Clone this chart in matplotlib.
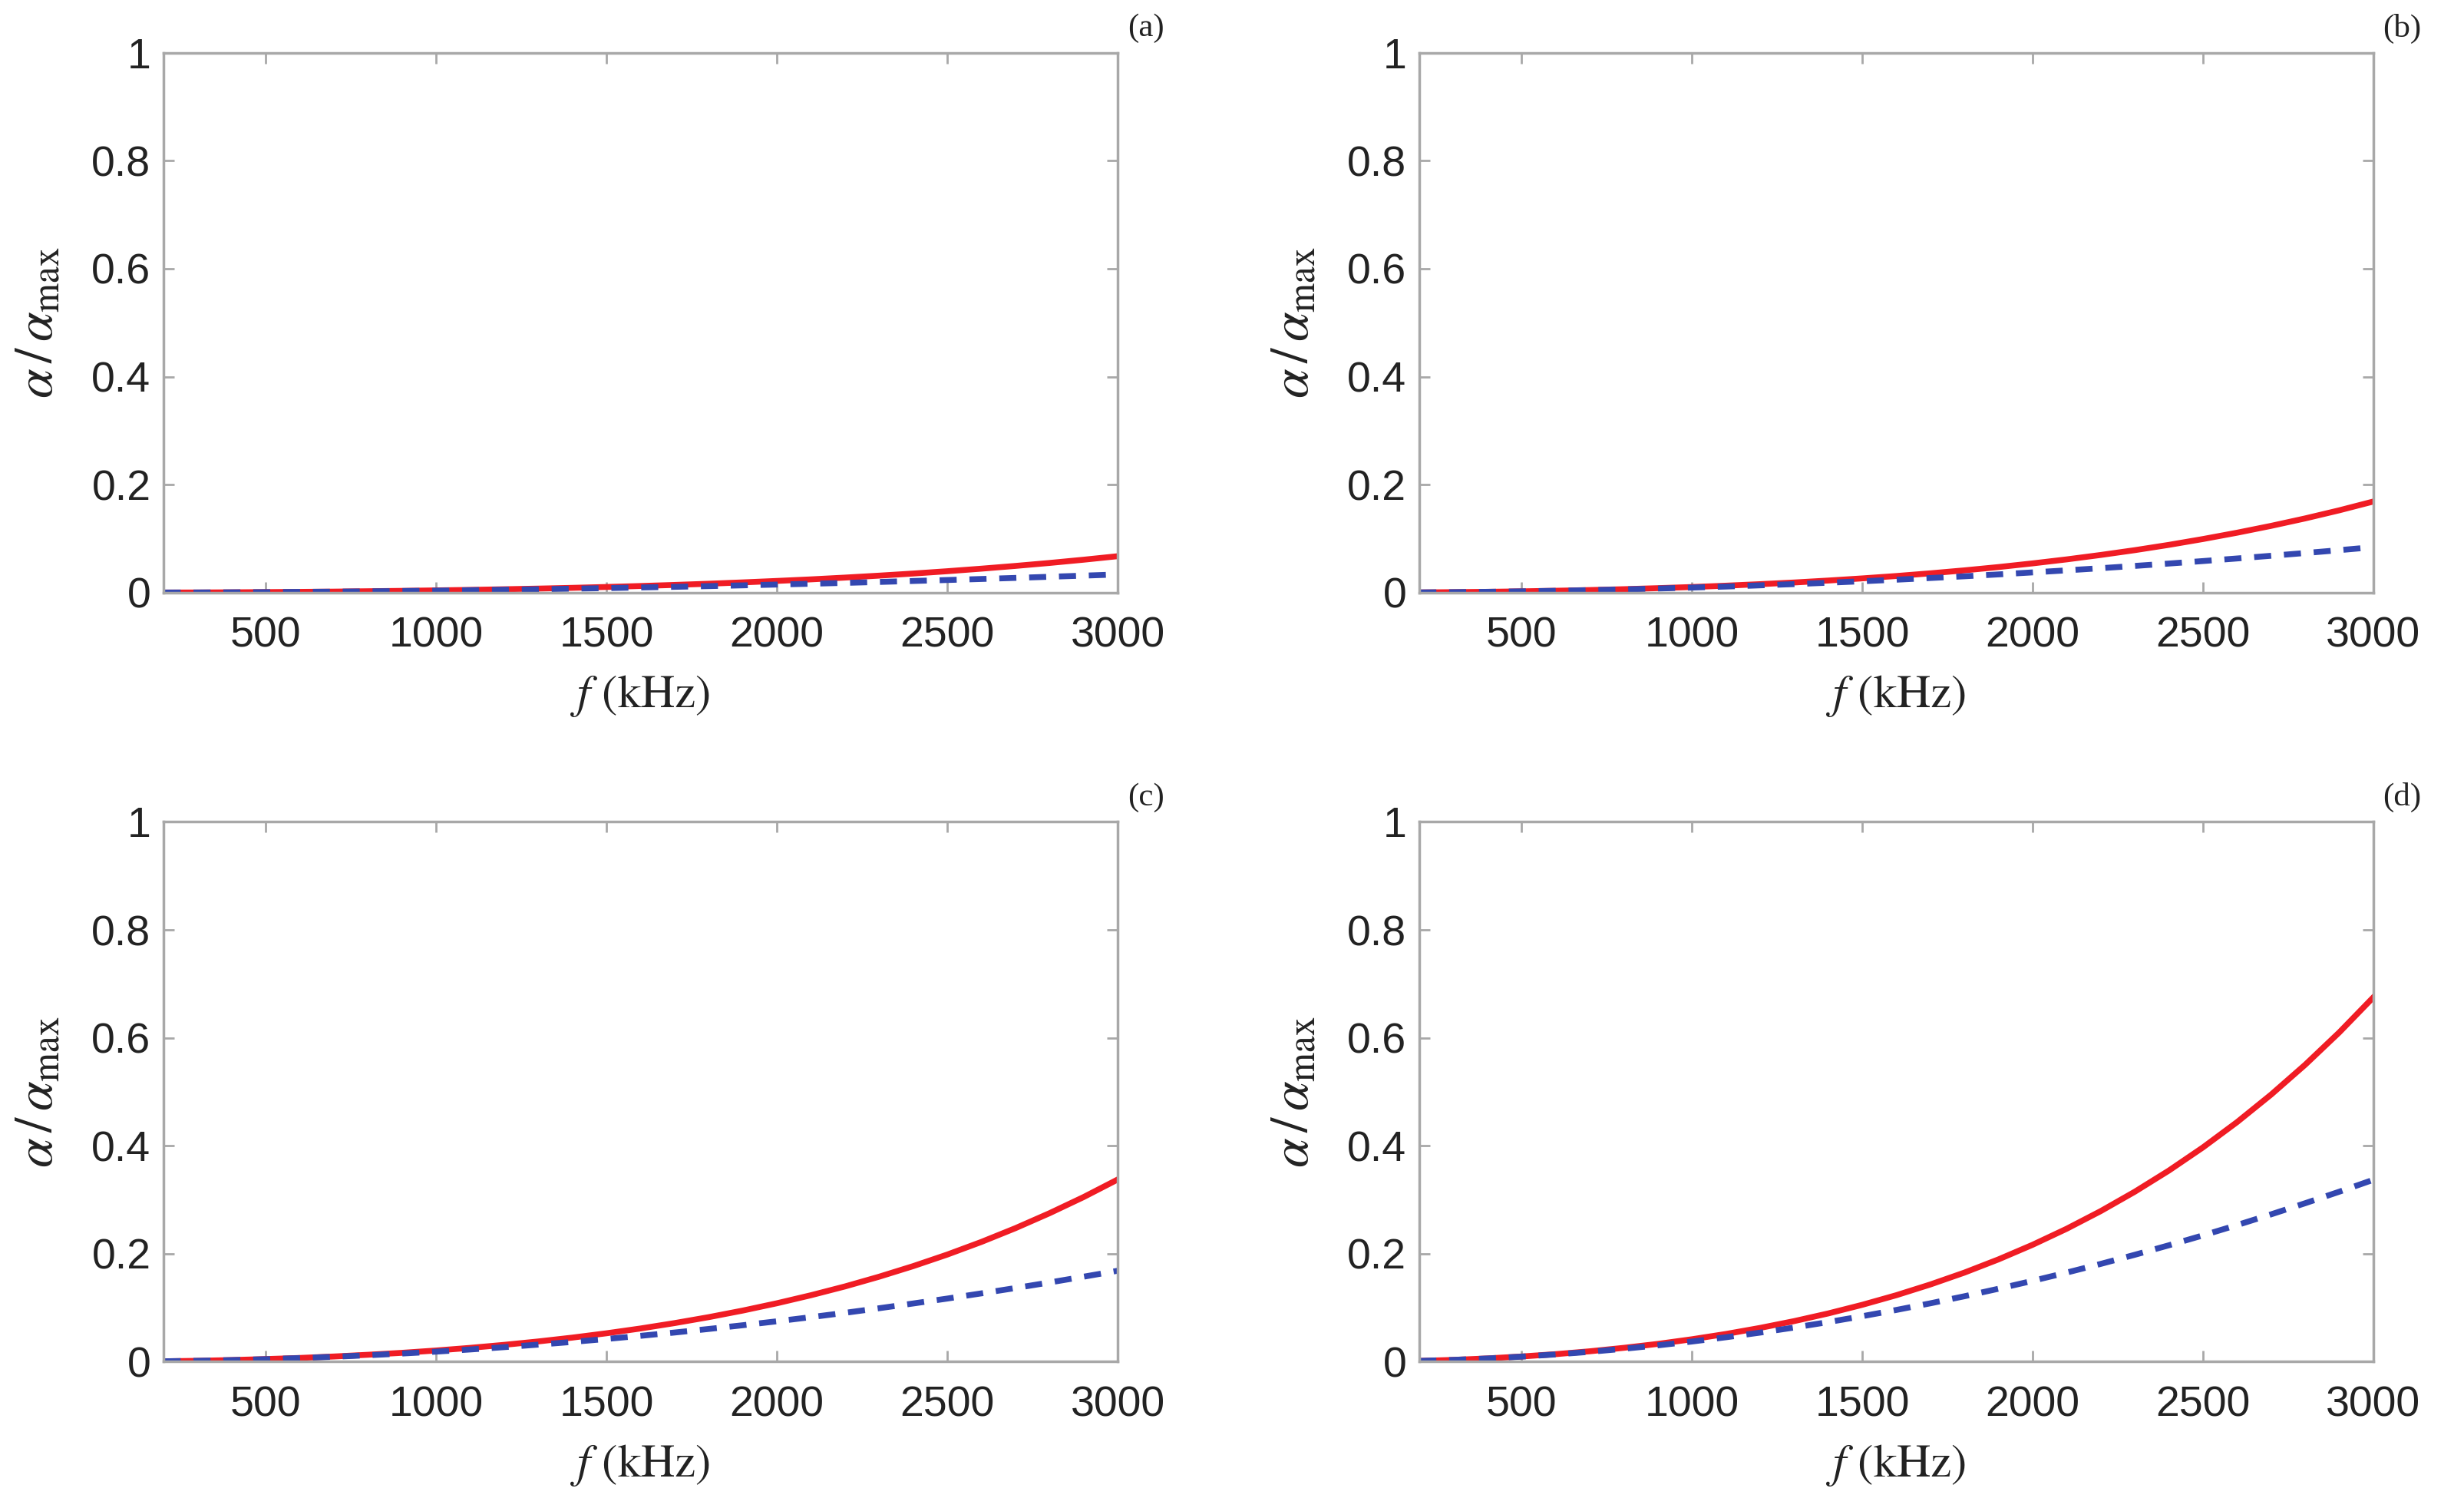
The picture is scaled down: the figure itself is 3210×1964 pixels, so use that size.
import matplotlib
matplotlib.use('Agg')
import matplotlib.pyplot as plt

# frequency grid (kHz)
freq = [200, 300, 400, 500, 600, 700, 800, 900, 1000, 1100, 1200, 1300, 1400, 1500, 1600,
        1700, 1800, 1900, 2000, 2100, 2200, 2300, 2400, 2500, 2600, 2700, 2800, 2900, 3000]

# panel (a)
red_a = [0.0002, 0.0003, 0.0006, 0.0010, 0.0014, 0.0019, 0.0026, 0.0033, 0.0042, 0.0051,
         0.0063, 0.0075, 0.0089, 0.0105, 0.0123, 0.0143, 0.0165, 0.0190, 0.0217, 0.0246,
         0.0279, 0.0315, 0.0354, 0.0397, 0.0444, 0.0495, 0.0550, 0.0610, 0.0675]
blue_a = [0.0002, 0.0003, 0.0006, 0.0009, 0.0014, 0.0018, 0.0024, 0.0030, 0.0037, 0.0045,
          0.0054, 0.0063, 0.0073, 0.0084, 0.0096, 0.0108, 0.0121, 0.0135, 0.0150, 0.0165,
          0.0181, 0.0198, 0.0216, 0.0234, 0.0253, 0.0273, 0.0294, 0.0315, 0.0337]
# panel (b)
red_b = [0.0004, 0.0009, 0.0015, 0.0024, 0.0035, 0.0048, 0.0064, 0.0083, 0.0104, 0.0129,
         0.0157, 0.0188, 0.0224, 0.0264, 0.0308, 0.0358, 0.0413, 0.0474, 0.0542, 0.0616,
         0.0698, 0.0787, 0.0885, 0.0993, 0.1110, 0.1237, 0.1375, 0.1525, 0.1688]
blue_b = [0.0004, 0.0009, 0.0015, 0.0024, 0.0034, 0.0046, 0.0060, 0.0076, 0.0094, 0.0113,
          0.0135, 0.0158, 0.0184, 0.0211, 0.0240, 0.0271, 0.0303, 0.0338, 0.0375, 0.0413,
          0.0453, 0.0495, 0.0539, 0.0585, 0.0633, 0.0683, 0.0734, 0.0787, 0.0843]
# panel (c)
red_c = [0.0008, 0.0017, 0.0031, 0.0049, 0.0070, 0.0097, 0.0129, 0.0165, 0.0208, 0.0257,
         0.0313, 0.0376, 0.0447, 0.0527, 0.0616, 0.0716, 0.0826, 0.0948, 0.1083, 0.1232,
         0.1395, 0.1575, 0.1771, 0.1985, 0.2219, 0.2474, 0.2751, 0.3050, 0.3375]
blue_c = [0.0008, 0.0017, 0.0030, 0.0047, 0.0068, 0.0092, 0.0120, 0.0152, 0.0187, 0.0227,
          0.0270, 0.0317, 0.0367, 0.0422, 0.0480, 0.0541, 0.0607, 0.0676, 0.0749, 0.0826,
          0.0906, 0.0991, 0.1079, 0.1170, 0.1266, 0.1365, 0.1468, 0.1575, 0.1685]
# panel (d)
red_d = [0.0015, 0.0034, 0.0061, 0.0097, 0.0140, 0.0193, 0.0257, 0.0330, 0.0416, 0.0514,
         0.0626, 0.0752, 0.0894, 0.1054, 0.1232, 0.1431, 0.1651, 0.1896, 0.2166, 0.2463,
         0.2790, 0.3149, 0.3541, 0.3970, 0.4438, 0.4948, 0.5501, 0.6100, 0.6750]
blue_d = [0.0015, 0.0034, 0.0060, 0.0094, 0.0135, 0.0183, 0.0240, 0.0303, 0.0374, 0.0453,
          0.0539, 0.0633, 0.0734, 0.0843, 0.0959, 0.1082, 0.1213, 0.1352, 0.1498, 0.1651,
          0.1812, 0.1981, 0.2157, 0.2340, 0.2531, 0.2730, 0.2936, 0.3149, 0.3370]

panel_tags = ['(a)', '(b)', '(c)', '(d)']
xticks = [500, 1000, 1500, 2000, 2500, 3000]
yticks = [0, 0.2, 0.4, 0.6, 0.8, 1]
ytick_labels = ['0', '0.2', '0.4', '0.6', '0.8', '1']

plt.rcParams['font.family'] = ['Liberation Sans', 'DejaVu Sans']
plt.rcParams['mathtext.fontset'] = 'stix'
plt.rcParams['lines.scale_dashes'] = False

fig = plt.figure(figsize=(32.1, 19.64), dpi=100)
boxes = [
    [0.0664, 0.607, 0.3872, 0.358],
    [0.576, 0.607, 0.3872, 0.358],
    [0.0664, 0.097, 0.3872, 0.358],
    [0.576, 0.097, 0.3872, 0.358],
]
series = [(red_a, blue_a), (red_b, blue_b), (red_c, blue_c), (red_d, blue_d)]

axis_grey = '#a8a8a8'
text_col = '#222222'
for box, (red, blue), tag in zip(boxes, series, panel_tags):
    ax = fig.add_axes(box)
    ax.plot(freq, red, color='#f01c24', lw=5.5)
    ax.plot(freq, blue, color='#3347b0', lw=5.5, dashes=(16, 12))
    ax.set_xlim(200, 3000)
    ax.set_ylim(0, 1)
    ax.set_xticks(xticks)
    ax.set_yticks(yticks)
    ax.set_yticklabels(ytick_labels)
    for s in ax.spines.values():
        s.set_color(axis_grey)
        s.set_linewidth(2.5)
    ax.tick_params(direction='in', length=10, width=2, color=axis_grey,
                   top=True, right=True, labelsize=40, labelcolor=text_col)
    ax.tick_params(axis='x', pad=22)
    ax.tick_params(axis='y', pad=12)
    ax.set_xlabel(r'$f\ (\mathrm{kHz})$', fontsize=44, color=text_col)
    ax.xaxis.set_label_coords(0.5, -0.15)
    ax.set_ylabel(r'$\alpha\,/\,\alpha_{\mathrm{max}}$', fontsize=50, color=text_col)
    ax.yaxis.set_label_coords(-0.105, 0.5)
    ax.text(1.03, 1.045, tag, transform=ax.transAxes, ha='center', va='center',
            fontsize=31, family='Liberation Serif', color=text_col)

fig.savefig('out.png', dpi=100, facecolor='white')
